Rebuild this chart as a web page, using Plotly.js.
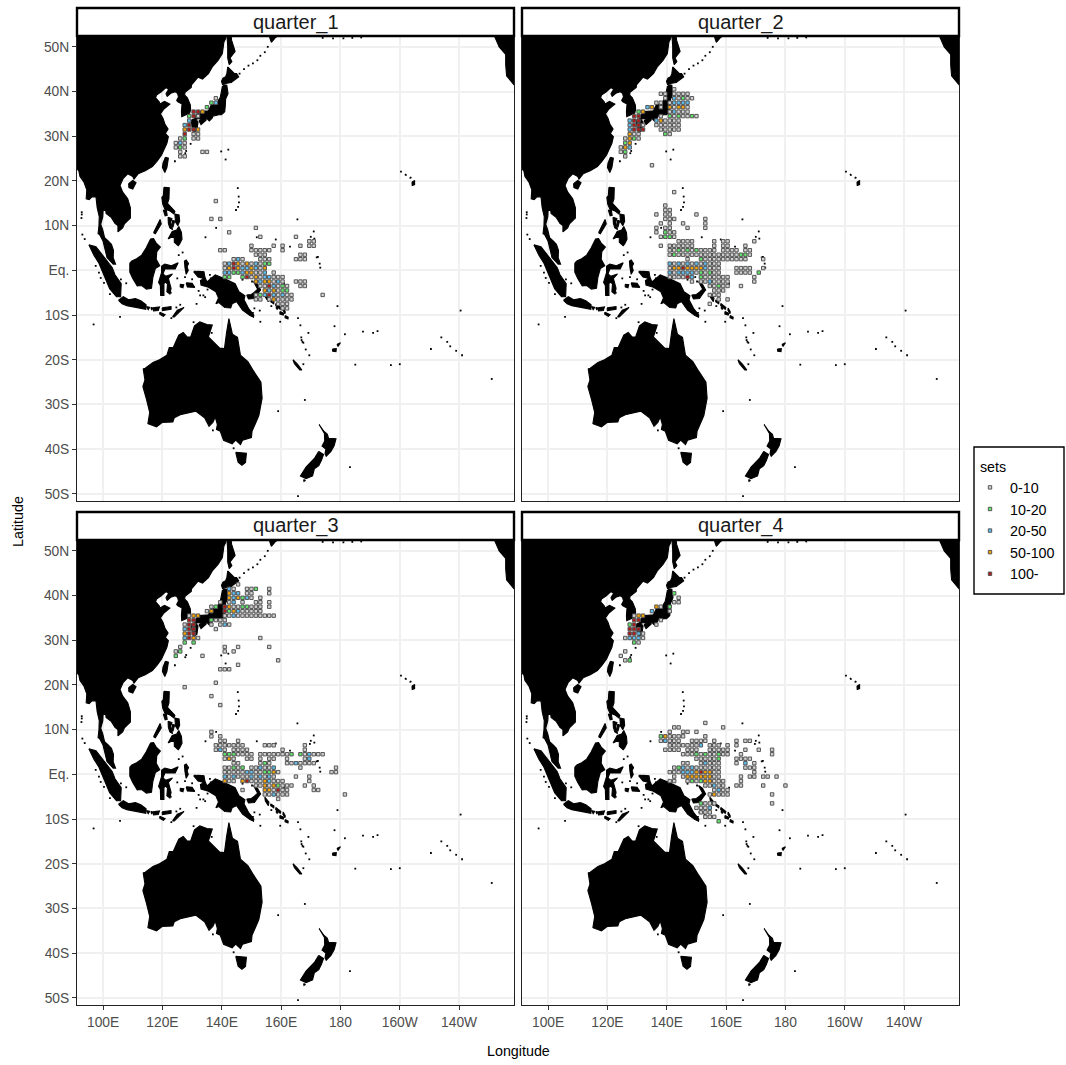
<!DOCTYPE html>
<html><head><meta charset="utf-8">
<script src="https://cdn.plot.ly/plotly-3.0.1.min.js"></script>
<style>html,body{margin:0;padding:0;background:#fff}#chart{width:1066px;height:1065px}</style>
</head><body><div id="chart"></div>
<script>
const quarters = ["quarter_1","quarter_2","quarter_3","quarter_4"];
const setLabels = ["0-10","10-20","20-50","50-100","100-"];
const setColors = ["#d2d2d2","#5fe86a","#5cc0f2","#f8a400","#b01818"];
const lonTicks = [100,120,140,160,180,200,220];
const lonLabels = ["100E","120E","140E","160E","180","160W","140W"];
const latTicks = [50,40,30,20,10,0,-10,-20,-30,-40,-50];
const latLabels = ["50N","40N","30N","20N","10N","Eq.","10S","20S","30S","40S","50S"];
const cellStepLon = 1.5;

// each row: latitude, first longitude, class of consecutive cells (0..4, "." = no cell)
const q1Rows = [
[38.5,138,"0"],[37.5,136.5,"12"],[36.5,135,"1"],[35.5,130.5,"443"],[34.5,129,"140"],[33.5,129,"2"],
[32.5,127.5,"24"],[31.5,127.5,"3443"],[30.5,127.5,"4"],[30.5,130.5,"00"],[29.5,126,"01"],[29.5,130.5,"00"],
[28.5,124.5,"02"],[28.5,127.5,"0"],[27.5,124.5,"010"],[26.5,126,"0"],[26.5,133.5,"00"],[25.5,126,"00"],
[15.5,138,"0"],[11.5,136.5,"0.0"],[9.5,151.5,"0"],[8.5,142.5,"0"],[7.5,153,"0"],[7.5,165,"0"],[6.5,169.5,"00"],
[5.5,150,"0"],[5.5,157.5,"0.0"],[5.5,166.5,"0.00"],[4.5,139.5,"00"],[4.5,150,"00000"],[4.5,160.5,"0"],
[3.5,151.5,"000"],[3.5,166.5,"00"],[2.5,144,"020"],[2.5,153,"000"],[2.5,165,"000"],
[1.5,141,"02430302011"],[0.5,141,"0343223203"],[-0.5,141,"2211233002"],[-0.5,157.5,"0"],
[-1.5,141,"11..1403022000"],[-2.5,151.5,"3233020"],[-2.5,165,"000"],[-3.5,153,"0042010"],[-3.5,166.5,"00"],
[-4.5,154.5,"323011"],[-5.5,151.5,"01"],[-5.5,154.5,"242020"],[-5.5,163.5,"0"],[-5.5,174,"0"],
[-6.5,151.5,"00"],[-6.5,156,"030000"],[-7.5,159,"000"],[-8.5,160.5,"00"]
];
const q2Rows = [
[40.5,142.5,"0"],[39.5,138,"00"],[39.5,142.5,"00"],[39.5,145.5,"00"],[38.5,139.5,"0"],[38.5,142.5,"20100"],
[37.5,136.5,"00"],[37.5,141,"02222"],[36.5,133.5,"23"],[36.5,138,"0"],[36.5,141,"30330"],[35.5,130.5,"13"],[35.5,141,"02000"],
[34.5,129,"44"],[34.5,138,"0"],[34.5,141,"1010010"],[33.5,127.5,"244"],[33.5,136.5,"230000"],[32.5,127.5,"2440"],[32.5,136.5,"000000"],
[31.5,127.5,"2444"],[31.5,138,"00000"],[30.5,127.5,"300"],[30.5,139.5,"10"],[29.5,126,"0310"],[28.5,126,"13"],
[27.5,124.5,"032"],[26.5,124.5,"01"],[25.5,126,"0"],[23.5,135,"0"],
[17.5,142.5,"0"],[14.5,139.5,"0"],[13.5,139.5,"00"],[12.5,136.5,"0"],[12.5,139.5,"00"],[12.5,150,"0"],
[11.5,139.5,"000"],[11.5,153,"0"],[10.5,138,"0.0"],[10.5,145.5,"0"],[10.5,153,"0"],[9.5,136.5,"0"],[9.5,139.5,"00"],[9.5,147,"0"],[9.5,153,"0"],
[8.5,136.5,"0.100"],[7.5,138,"0110"],[6.5,144,"0000"],[6.5,156,"0"],[6.5,159,"00"],[6.5,169.5,"0"],
[5.5,138,"0.00"],[5.5,144,"0000"],[5.5,156,"0.00"],[5.5,166.5,"0"],
[4.5,141,"0010101"],[4.5,151.5,"000"],[4.5,156,"0.0000"],[4.5,166.5,"00"],
[3.5,141,"0100000000000000110"],[2.5,147,"0"],[2.5,151.5,"10000000000"],[2.5,172.5,"0"],
[1.5,141,"202020202000"],[0.5,141,"033433332000"],[0.5,163.5,"0000"],[0.5,172.5,"0"],
[-0.5,141,"202222010100"],[-0.5,163.5,"0000.1"],[-1.5,141,"000"],[-1.5,145.5,"042"],[-1.5,151.5,"1000000"],[-1.5,169.5,"0"],
[-2.5,148.5,"0"],[-2.5,151.5,"0020000"],[-2.5,169.5,"0"],[-3.5,154.5,"00100"],[-3.5,165,"0"],
[-4.5,156,"000"],[-5.5,154.5,"000"],[-6.5,157.5,"0"],[-6.5,160.5,"0"],[-7.5,154.5,"0"]
];
const q3Rows = [
[42.5,145.5,"0"],[41.5,142.5,"20"],[41.5,148.5,"001"],[41.5,156,"0"],[40.5,142.5,"322"],[40.5,148.5,"00"],[40.5,156,"0"],
[39.5,142.5,"32312"],[39.5,150,"0.0"],[38.5,139.5,"0"],[38.5,142.5,"02"],[38.5,147,"0"],[38.5,151.5,"00"],[38.5,156,"0"],
[37.5,136.5,"01"],[37.5,141,"430011000"],[37.5,156,"0"],[36.5,135,"03"],[36.5,141,"413200000"],[35.5,141,"002000000000"],
[34.5,136.5,"1000"],[33.5,136.5,"0.02"],[33.5,142.5,"0"],[32.5,138,"0"],[30.5,153,"0"],[28.5,141,"0"],[28.5,145.5,"0"],[28.5,156,"0"],
[27.5,141,"0"],[27.5,144,"0"],[26.5,133.5,"0"],[25.5,159,"0"],[24.5,145.5,"0"],[23.5,139.5,"00"],[23.5,142.5,"0"],
[20.5,138,"0"],[19.5,127.5,"0"],[17.5,136.5,"0"],[15.5,139.5,"0"],
[35.5,129,"033"],[34.5,129,"44"],[33.5,127.5,"044"],[32.5,127.5,"244"],[31.5,127.5,"344"],[30.5,127.5,"2430"],[29.5,127.5,"1.1"],
[28.5,126,"0"],[27.5,124.5,"01"],[26.5,124.5,"1"],
[9.5,136.5,"0"],[8.5,136.5,"0.0"],[7.5,139.5,"00"],[7.5,145.5,"0"],[6.5,138,"000"],[6.5,142.5,"0000"],[6.5,154.5,"000"],[6.5,168,"0"],
[5.5,138,"020"],[5.5,144,"0000"],[5.5,160.5,"0"],[5.5,168,"0"],[4.5,141,"1110000"],[4.5,153,"000000"],[4.5,162,"01"],[4.5,166.5,"102000"],
[3.5,141,"030"],[3.5,148.5,"00"],[3.5,153,"0.00"],[3.5,162,"0"],[3.5,168,"02"],[2.5,144,"00"],[2.5,153,"010"],[2.5,162,"0020"],[2.5,168,"00"],[2.5,171,"0"],
[1.5,141,"00101"],[1.5,150,"002002"],[1.5,166.5,"0"],[1.5,178.5,"0"],[0.5,141,"000002"],[0.5,150,"2001130"],[0.5,177,"00"],
[-0.5,141,"202000202020"],[-0.5,165,"0"],[-0.5,169.5,"0"],[-1.5,141,"300"],[-1.5,147,"3400032000"],[-1.5,169.5,"0"],
[-2.5,151.5,"00303100"],[-2.5,163.5,"0"],[-2.5,168,"0"],[-2.5,171,"0"],[-3.5,147,"0"],[-3.5,154.5,"330400"],[-3.5,171,"00"],
[-4.5,154.5,"002000"],[-4.5,181.5,"0"],[-5.5,159,"0"]
];
const q4Rows = [
[40.5,142.5,"1"],[39.5,144,"0"],[38.5,142.5,"00"],[37.5,136.5,"30"],[37.5,141,"1"],[36.5,135,"2"],[36.5,141,"0"],[35.5,129,"033"],
[34.5,129,"44"],[34.5,138,"0"],[33.5,127.5,"14"],[33.5,136.5,"0"],[32.5,127.5,"444"],[31.5,127.5,"442"],[31.5,132,"0"],[30.5,126,"02220"],
[29.5,129,"10"],[27.5,126,"0"],[26.5,124.5,"0"],[25.5,126,"01"],
[11.5,153,"0"],[10.5,142.5,"00"],[10.5,159,"0"],[9.5,141,"0"],[9.5,145.5,"00"],[9.5,150,"0"],[8.5,138,"130000"],[8.5,153,"0"],
[7.5,138,"0200"],[7.5,144,"0"],[7.5,148.5,"000"],[7.5,153,"0"],[7.5,156,"0"],[7.5,163.5,"0"],[7.5,166.5,"00"],
[6.5,141,"0000"],[6.5,147,"0002"],[6.5,154.5,"000"],[6.5,160.5,"0"],[6.5,163.5,"0"],
[5.5,139.5,"0000"],[5.5,147,"000"],[5.5,154.5,"00000"],[5.5,166.5,"0"],[5.5,171,"0"],[5.5,175.5,"0"],
[4.5,145.5,"00010100100"],[4.5,165,"0"],[4.5,175.5,"0"],[3.5,150,"000001"],[3.5,163.5,"0000"],
[2.5,145.5,"00"],[2.5,151.5,"02000"],[2.5,163.5,"0"],[2.5,166.5,"2.0"],[1.5,142.5,"01202000000"],[1.5,166.5,"000"],
[0.5,141,"000222343300"],[0.5,169.5,"0"],[-0.5,142.5,"0"],[-0.5,145.5,"033333300"],[-0.5,165,"0"],[-0.5,168,"00"],[-0.5,172.5,"00"],[-0.5,177,"0"],
[-1.5,141,"00"],[-1.5,147,"010133000"],[-1.5,165,"0"],[-2.5,153,"00200"],[-2.5,163.5,"00"],[-2.5,172.5,"0"],[-2.5,180,"0"],
[-3.5,156,"0200"],[-4.5,154.5,"03000"],[-4.5,175.5,"0"],[-6.5,151.5,"1000"],[-6.5,175.5,"0"],[-7.5,150,"0002"],[-8.5,151.5,"000"],[-9.5,153,"000"],[-10.5,157.5,"1"]
];
const quarterRows = [q1Rows,q2Rows,q3Rows,q4Rows];

// coastlines as [lon,lat]
const asia = [[91,53],[141.2,53],[141.4,52],[140.7,51],[140.5,50],[140.2,48.5],[138.8,47],[136.8,45.5],[135.5,44],[133.5,42.8],[132,43.2],[130.7,42.3],[129.8,41.5],[129.7,40.9],[127.6,39.8],[127.5,39.2],[128.4,38.6],[129.4,37],[129.5,36],[129.2,35.2],[128,34.8],[126.5,34.4],[126.4,35.5],[126.7,36.8],[126.6,37.2],[125.2,37.7],[124.8,38],[125.4,38.8],[125.1,39.6],[124.3,39.95],[122.8,39.6],[121.6,38.9],[121.2,39.5],[122.1,40.5],[121.2,40.9],[119.5,39.9],[118,39.2],[117.7,38.6],[118.9,37.7],[119.2,37.2],[120.7,37.8],[122.5,37.2],[120.5,36.1],[119.3,35],[120.2,34],[120.9,32.6],[121.9,31.6],[121,30.6],[122,29.9],[121.5,28.4],[119.7,25.8],[118.2,24.4],[116.6,23.2],[114.2,22.3],[111.8,21.6],[110.4,20.4],[110,21],[108.3,21.6],[106.8,20.6],[105.7,19],[106.6,17.5],[108.3,16],[109.2,14],[109.2,11.7],[107.2,10.4],[106.6,9.5],[105,8.6],[105,10],[104,10.5],[102.8,11.8],[101,12.7],[100.9,13.4],[100,13.4],[99.9,12],[99.2,10.3],[99.9,9],[100.5,7.3],[101.7,6.6],[102.8,5.8],[103.5,4.5],[103.4,2.8],[104.2,1.4],[103.4,1.4],[101.3,2.9],[100.4,5],[100,6.5],[98.8,8],[98.3,8.2],[98.6,10],[98.7,12],[98,14],[97.6,16.4],[96.3,16.5],[95.3,15.8],[94.3,16],[94.5,18],[93.5,19.8],[92.2,21],[91.8,22.3],[91,22.7]];
const sakhalin = [[142.2,54],[143,53.5],[143.3,51.5],[144.5,49],[142.8,47.5],[143.4,46.7],[142.5,46],[142,47.5],[142,50],[141.8,52]];
const kamchatka = [[156.7,51],[158,52],[160,53],[155,55],[155.7,53]];
const hokkaido = [[140.3,41.5],[141.2,41.8],[143.2,42],[145.7,43.3],[145,44],[144.3,44],[142,45.5],[141.7,44],[141.3,43.3],[140.4,43],[139.9,42.3]];
const honshu = [[140.9,41.5],[141.7,41.4],[142.1,39.5],[141.3,38.3],[141.2,37],[140.9,36],[141,35.5],[139.9,34.8],[139,34.8],[137,34.5],[136.8,34.1],[135.8,33.4],[135.1,33.9],[133,34],[131,33.8],[130.8,34.4],[132.5,35.5],[135.5,35.7],[136.6,37.2],[137.2,37],[138.5,37.6],[139.5,38.7],[139.9,40],[140.2,41.1]];
const shikoku = [[132.3,33.5],[134.7,34.3],[134.7,33.6],[133,32.6]];
const kyushu = [[129.7,33.6],[131,34],[132,33.2],[131.6,31.3],[130.6,30.9],[130,31.9]];
const taiwan = [[121,25.3],[122,25.1],[121.5,23],[120.8,21.9],[120,23],[120.2,24]];
const hainan = [[108.6,19.4],[110,20.1],[111.1,19.6],[110,18.2],[108.7,18.5]];
const luzon = [[120.5,18.6],[122.3,18.5],[122.2,16],[121.7,15],[124.2,13.2],[123.9,12.6],[122.5,13.3],[120.8,13.7],[120.1,14.8],[119.8,16.3],[120.3,16.7]];
const mindoro = [[120.3,13.5],[121.3,13.5],[121.6,12.3],[120.9,12.2]];
const palawan = [[117,8.4],[119.2,11.4],[119.6,10.4],[117.6,8.2]];
const visayas = [[121.9,11.9],[123.2,11.6],[122.8,10.8],[123.4,9.1],[122.5,9.5],[122,10.5]];
const cebu = [[123.4,11.2],[124.1,11],[123.5,9.6],[123.3,10.2]];
const samar = [[124.2,12.6],[125.6,12.4],[125.8,11],[125.2,10],[124.4,10.8]];
const mindanao = [[121.9,7],[123.3,8.7],[124.8,9],[125.5,9.8],[126.4,8.5],[126.6,7],[125.8,5.9],[125.3,5.5],[124,6.3],[124,7.3],[123,7.4]];
const borneo = [[109,1.6],[109.7,2.1],[111.3,2.6],[113,3.4],[114.5,5],[116,7],[117,7.1],[117.9,6.1],[119.3,5.2],[118.1,4.2],[117.9,2.5],[119.1,1],[117.6,0.4],[116.8,-1.5],[116.3,-4],[114.6,-4.2],[113,-3.4],[111.5,-3.5],[110,-1.8],[109,-0.4]];
const sumatra = [[95.2,5.7],[97.6,5.3],[100.4,2.9],[103.1,0.6],[104,-1],[106.1,-3],[105.9,-5.9],[104.5,-5.9],[102.2,-4.1],[100.3,-1.1],[98.6,1.6],[96.9,3.4]];
const java = [[105.2,-6.7],[106.8,-5.9],[108.6,-6.6],[110.9,-6.3],[112.7,-6.8],[114.5,-7.7],[114.4,-8.7],[111,-8.3],[108,-7.9],[106.4,-7.5]];
const bali = [[114.6,-8.1],[115.7,-8.3],[115.2,-8.8]];
const lombok = [[116.1,-8.3],[116.7,-8.4],[116.4,-8.9]];
const sumbawa = [[116.8,-8.4],[119,-8.2],[118.6,-9],[117,-9.1]];
const flores = [[119.9,-8.4],[122.9,-8.1],[122.9,-8.7],[120,-9]];
const sumba = [[119.1,-9.4],[120.9,-9.9],[120.3,-10.3],[119.1,-9.8]];
const timor = [[123.4,-10.4],[125,-8.9],[127.3,-8.3],[125.2,-9.6],[124,-10.4]];
const sulawesi = [[119.7,0.9],[120.8,1.4],[123,1],[125.3,1.7],[124.3,0.3],[120.8,0.3],[120.2,-0.8],[121.1,-1.3],[123.4,-0.8],[122,-1.8],[122.9,-4],[122.5,-5.3],[121.5,-4.8],[121.7,-3],[120.9,-2.6],[120.5,-3],[120.5,-5.6],[119.4,-5.6],[119.3,-3.4],[118.7,-2.7],[119.7,-0.5]];
const halmahera = [[127.4,2.1],[128,2.3],[128.8,1.5],[128.3,0.8],[128.7,0],[128,-0.9],[127.6,0.6]];
const seram = [[128,-2.8],[130,-2.9],[130.9,-3.8],[128.4,-3.7]];
const buru = [[126,-3.1],[127.2,-3.2],[126.9,-3.9],[126,-3.7]];
const newGuinea = [[130.5,-0.3],[132,-0.2],[134,-0.3],[134.3,-1.5],[135,-2.6],[136,-2],[137.8,-1],[141,-1.9],[144.5,-3],[145.8,-4.8],[147.8,-5.7],[147.5,-6.6],[149,-8.5],[150.8,-10],[150.7,-10.5],[149.5,-10.1],[147,-8.9],[145,-7],[143.5,-7.5],[143,-8.4],[141,-8.3],[139,-7.2],[138,-7.5],[138.9,-6.2],[138,-4.8],[135.5,-3.8],[133,-3.3],[132.8,-2.3],[134,-1.8],[132,-1.5],[131,-0.8]];
const newBritain = [[148.4,-5.5],[150,-5.4],[151,-4.9],[152.3,-4.1],[152.4,-5],[151,-6.3],[149,-6.4]];
const newIreland = [[150.7,-2.5],[152,-3.1],[153.1,-4.4],[152.6,-4.8],[151.4,-3.4]];
const bougainville = [[154.5,-5.1],[155.9,-6.2],[155.7,-7],[154.7,-6]];
const choiseul = [[156.5,-6.6],[157.6,-7.1],[157.5,-7.5],[156.5,-7]];
const isabel = [[158.2,-7.4],[159.9,-8.3],[159.7,-8.7],[158.2,-7.9]];
const guadalcanal = [[159.6,-9.2],[160.9,-9.6],[160.7,-10],[159.6,-9.8]];
const malaita = [[160.7,-8.4],[161.4,-9.3],[161.3,-9.7],[160.6,-8.9]];
const makira = [[161.4,-10.1],[162.4,-10.5],[162.3,-10.9],[161.3,-10.6]];
const australia = [[113.5,-22],[114.2,-21.9],[116.8,-20.6],[119,-20],[121.5,-19],[122.3,-17.3],[123.6,-17.3],[125.5,-14.5],[127,-13.9],[128.3,-14.9],[129.5,-14.9],[130.8,-12.4],[132.6,-11.5],[135,-12.1],[136.8,-12.2],[135.5,-14.9],[139.3,-17.4],[140.9,-17.5],[141.6,-14],[142.4,-10.8],[143.6,-14.3],[145.3,-15],[146.3,-19],[148.8,-20.4],[150.7,-22.5],[153.2,-25],[153.6,-28.6],[152.5,-32.5],[150.2,-36],[150,-37.4],[147,-38],[146.3,-39],[144.7,-38],[143.5,-38.8],[140.6,-38],[139.5,-36],[138.2,-35.6],[138.5,-34.5],[137.8,-32.8],[137,-34],[135.7,-34.9],[134.2,-33],[131.2,-31.5],[126,-32.3],[124,-33],[123.5,-33.9],[120,-34],[118,-35],[115.1,-34.3],[115.7,-31.8],[114.6,-28.8],[113.4,-26],[114.1,-24.5]];
const tasmania = [[144.7,-40.7],[148.3,-40.9],[148,-43],[146.8,-43.6],[145.5,-42.9]];
const nzNorth = [[172.8,-34.5],[174.4,-36],[175.6,-36.7],[176,-37.6],[178.5,-37.7],[177.9,-39.2],[176.8,-40.5],[175.2,-41.6],[174.8,-41],[175.1,-40],[173.8,-39.3],[174.7,-38.2],[174.6,-36.5]];
const nzSouth = [[172.7,-40.5],[174.3,-41.2],[173.6,-42.5],[172.7,-43.7],[171.2,-44.4],[170.6,-46],[168.4,-46.6],[166.5,-46],[168.4,-44],[171.3,-42]];
const stewart = [[167.6,-46.8],[168.2,-47],[167.7,-47.2]];
const newCaledonia = [[164,-20],[165.5,-21],[167,-22.3],[166.3,-22.3],[164.5,-20.9]];
const fiji = [[177.3,-17.6],[178.6,-17.5],[178.5,-18.2],[177.4,-18.1]];
const vanuaLevu = [[178.8,-16.6],[180,-16.2],[179.2,-17]];
const hawaiiBig = [[204.1,19.7],[205,20.1],[205,19.2],[204.2,19]];
const oahu = [[201.8,21.6],[202.3,21.3],[201.9,21.3]];
const maui = [[203.5,20.9],[203.9,20.7],[203.5,20.6]];
const northAmerica = [[231.5,53],[239,53],[239,41.2],[238.4,41.6],[236,43.5],[235.7,46],[235.7,48.3],[233.5,50],[232.5,51.5]];
const landPolygons = [asia,sakhalin,kamchatka,hokkaido,honshu,shikoku,kyushu,taiwan,hainan,luzon,mindoro,palawan,visayas,cebu,samar,mindanao,borneo,sumatra,java,bali,lombok,sumbawa,flores,sumba,timor,sulawesi,halmahera,seram,buru,newGuinea,newBritain,newIreland,bougainville,choiseul,isabel,guadalcanal,malaita,makira,australia,tasmania,nzNorth,nzSouth,stewart,newCaledonia,fiji,vanuaLevu,hawaiiBig,oahu,maui,northAmerica];
const smallIslandLon = [146,147.5,149,150.5,152,153,154.5,155.5,174,177.5,181,184,187,130.5,129.5,128,127.7,124.2,92.8,92.7,92.8,93,93.8,97.5,98.6,99.2,100.3,102.3,106,107.8,96.8,105.7,145.4,145.7,145.8,145.5,144.8,141.3,142.2,139.8,138.1,134.5,158.2,151.8,163,171.2,165.5,169.7,172.4,173,173.2,165.7,166.8,166.9,167.2,167.5,168.3,210.5,220.5,231,187.6,185,200,214,216,217,219,221,178,179,136,136.3,134.4,132.7,131.5,130,131,127.6,125,147,122.8,126,124.7,123,149.6,150.2,151,150.5,153,152.8,159,168,183.2,165.7,144,137,130.5,136.6,126.8,125.5,132.2,133.8,135.2,132.6,159.7,167.5,169.5,191,192.5,197,200.4,181.5,170,171,172,161,166.5,169.2,158.7,158.5,156.7];
const smallIslandLat = [44,45,45.8,46.3,47,48,48.8,50,52,51.9,51.9,52,52.1,30.4,28.3,26.7,26.2,24.4,13,11.7,12.5,8,7,1,-0.5,-1.7,-2.8,-5.3,-2,-2.9,-12.1,-10.4,18.4,16.5,15.2,14.2,13.5,24.8,27,26.6,9.5,7.4,6.9,7.4,5.3,7.1,11.4,6.8,3,1.5,0.6,-10.7,-15,-15.6,-16,-16.2,-17.7,-17.6,-9,-24.3,-13.7,-21.1,-21,-15,-16,-17,-18,-19,-12.5,-8,-1,-1.8,-6,-5.6,-7.5,-2,-0.3,-1.5,-1.8,-2.1,-5,-7.7,-8.3,-10.7,-1.5,-2.5,-8.5,-9.5,-11.5,-9,-31.5,-29,-44,-50.5,-39.8,-35.8,-11.6,-14,4,3.4,-4.6,-5.6,-4.3,-0.8,-11.5,-21,-19,-14,-13.6,-21.2,22.1,-14.3,7.5,8.7,2.9,-3,-12.3,-14,-8.6,-8.4,-8];

const PAGE_W = 1066, PAGE_H = 1065;
const panelX = [[77,514],[522,959],[77,514],[522,959]];
const panelY = [[37,501],[37,501],[541,1005],[541,1005]];
const stripY = [[8,36],[8,36],[512,540],[512,540]];
const xRange = [91.2,238.5], yRange = [-51.6,52.2];
const px = v => v/PAGE_W, py = v => 1 - v/PAGE_H;

const traces = [];
const landLon = [], landLat = [];
landPolygons.forEach(p => { p.forEach(c => { landLon.push(c[0]); landLat.push(c[1]); }); landLon.push(p[0][0]); landLat.push(p[0][1]); landLon.push(null); landLat.push(null); });

quarters.forEach((q,i) => {
  const ax = i === 0 ? "" : String(i+1);
  traces.push({type:"scatter",mode:"lines",x:landLon,y:landLat,xaxis:"x"+ax,yaxis:"y"+ax,fill:"toself",fillcolor:"#000",line:{color:"#000",width:1.1},hoverinfo:"skip",showlegend:false,name:"land"});
  traces.push({type:"scatter",mode:"markers",x:smallIslandLon,y:smallIslandLat,xaxis:"x"+ax,yaxis:"y"+ax,marker:{symbol:"square",size:1.8,color:"#000"},hoverinfo:"skip",showlegend:false,name:"islands"});
  setLabels.forEach((lab,c) => {
    const xs = [], ys = [];
    quarterRows[i].forEach(r => { [...r[2]].forEach((ch,k) => { if (ch === String(c)) { xs.push(r[1]+k*cellStepLon); ys.push(r[0]); } }); });
    traces.push({type:"scatter",mode:"markers",x:xs,y:ys,xaxis:"x"+ax,yaxis:"y"+ax,name:lab,legendgroup:lab,showlegend:i===0,
      marker:{symbol:"square",size:3.4,color:setColors[c],line:{color:"#555555",width:1}}});
  });
});

const layout = {
  width:PAGE_W,height:PAGE_H,margin:{l:0,r:0,t:0,b:0},paper_bgcolor:"#fff",plot_bgcolor:"#fff",
  font:{family:"Liberation Sans, Arial, sans-serif",color:"#000"},
  legend:{x:px(970),y:py(453),xanchor:"left",yanchor:"top",borderwidth:0,bgcolor:"rgba(0,0,0,0)",
    font:{size:14.3,color:"#000"},title:{text:"&nbsp;&nbsp;sets",font:{size:14.3,color:"#000"}},traceorder:"normal",itemclick:false,itemdoubleclick:false},
  shapes:[{type:"rect",xref:"paper",yref:"paper",x0:px(974),x1:px(1064),y0:py(594),y1:py(447),fillcolor:"#fff",line:{color:"#000",width:1.4},layer:"below"}],
  annotations:[]
};
quarters.forEach((q,i) => {
  const ax = i === 0 ? "" : String(i+1);
  const bottom = i >= 2, left = i % 2 === 0;
  const common = {showgrid:true,gridcolor:"#f0f0f0",gridwidth:1.5,zeroline:false,showline:true,linecolor:"#222",linewidth:1,mirror:true,
    tickcolor:"#333",ticklen:4,tickwidth:1,tickfont:{size:13.8,color:"#4d4d4d"},layer:"below traces"};
  layout["xaxis"+ax] = Object.assign({},common,{domain:[px(panelX[i][0]),px(panelX[i][1])],range:xRange,tickmode:"array",tickvals:lonTicks,ticktext:lonLabels,
    showticklabels:bottom,ticks:bottom?"outside":"",anchor:"y"+ax});
  layout["yaxis"+ax] = Object.assign({},common,{domain:[py(panelY[i][1]),py(panelY[i][0])],range:yRange,tickmode:"array",tickvals:latTicks,ticktext:latLabels,
    showticklabels:left,ticks:left?"outside":"",anchor:"x"+ax});
  layout.shapes.push({type:"rect",xref:"paper",yref:"paper",x0:px(panelX[i][0]),x1:px(panelX[i][1]),y0:py(stripY[i][1]),y1:py(stripY[i][0]),fillcolor:"#fff",line:{color:"#000",width:2.4}});
  layout.annotations.push({xref:"paper",yref:"paper",x:px((panelX[i][0]+panelX[i][1])/2),y:py((stripY[i][0]+stripY[i][1])/2),text:q,showarrow:false,xanchor:"center",yanchor:"middle",font:{size:20,color:"#1a1a1a"}});
});
layout.annotations.push({xref:"paper",yref:"paper",x:px(518),y:py(1051),text:"Longitude",showarrow:false,xanchor:"center",yanchor:"middle",font:{size:14.3,color:"#000"}});
layout.annotations.push({xref:"paper",yref:"paper",x:px(18),y:py(522),text:"Latitude",showarrow:false,textangle:-90,xanchor:"center",yanchor:"middle",font:{size:14.3,color:"#000"}});

Plotly.newPlot("chart",traces,layout,{displayModeBar:false});
</script></body></html>
